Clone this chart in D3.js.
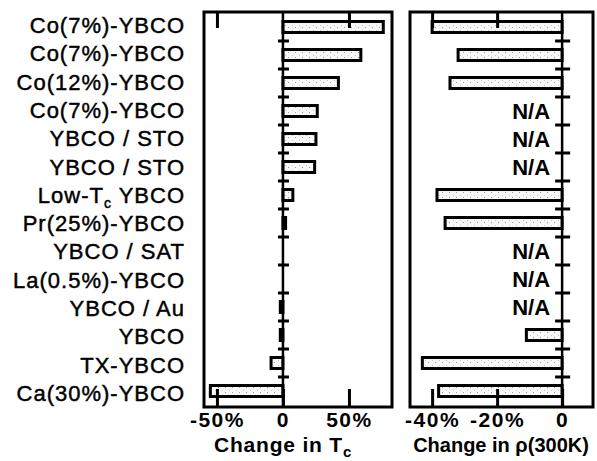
<!DOCTYPE html>
<html>
<head>
<meta charset="utf-8">
<script src="https://cdn.jsdelivr.net/npm/d3@7"></script>
<style>
  html, body { margin: 0; padding: 0; background: #fff; }
  svg { display: block; }
  text { font-family: "Liberation Sans", Arial, Helvetica, sans-serif; fill: #000; }
</style>
</head>
<body>
<svg id="chart" width="597" height="461"></svg>
<script>
// Sample names, one per row (top to bottom)
const samples = [
  "Co(7%)-YBCO", "Co(7%)-YBCO", "Co(12%)-YBCO", "Co(7%)-YBCO",
  "YBCO / STO", "YBCO / STO", "Low-Tc YBCO", "Pr(25%)-YBCO",
  "YBCO / SAT", "La(0.5%)-YBCO", "YBCO / Au", "YBCO",
  "TX-YBCO", "Ca(30%)-YBCO"
];
// Relative change of the critical temperature, percent
const changeTc = [76, 59, 42, 26, 25, 24, 7.5, 2, 0, 0, -2, -2, -9, -55];
// Relative change of the 300 K resistivity, percent (null = not available)
const changeRho = [-40, -32, -34.5, null, null, null, -38.5, -36, null, null, null, -11, -43, -38];

const tcTicks = [-50, 0, 50];
const tcTickLabels = ["-50%", "0", "50%"];
const rhoTicks = [-40, -20, 0];
const rhoTickLabels = ["-40%", "-20%", "0"];

const svg = d3.select("#chart");

// dotted light fill used inside the bars
const defs = svg.append("defs");
const pat = defs.append("pattern").attr("id", "speckle")
  .attr("patternUnits", "userSpaceOnUse").attr("width", 7).attr("height", 5);
pat.append("rect").attr("width", 7).attr("height", 5).attr("fill", "#f7f7f7");
pat.append("rect").attr("x", 1).attr("y", 2).attr("width", 1).attr("height", 1).attr("fill", "#9a9a9a");
pat.append("rect").attr("x", 5).attr("y", 0).attr("width", 1).attr("height", 1).attr("fill", "#c4c4c4");

const plotTop = 12, plotBottom = 407;
const y = d3.scaleBand().domain(d3.range(samples.length)).range([13, 405]).paddingInner(0).paddingOuter(0);
// label baselines run a touch wider than the bar rows
const yLabel = d3.scalePoint().domain(d3.range(samples.length)).range([33, 401]);
const barH = 11;

const panels = [
  { values: changeTc, x: d3.scaleLinear().domain([-59.8, 82.6]).range([204, 392]),
    ticks: tcTicks, tickLabels: tcTickLabels, rowTick: [-5, 6], title: "tc" },
  { values: changeRho, x: d3.scaleLinear().domain([-46.8, 9.5]).range([410, 593]),
    ticks: rhoTicks, tickLabels: rhoTickLabels, rowTick: [-7, 8], title: "rho" }
];

// Row labels on the left
const labels = svg.append("g");
samples.forEach((s, i) => {
  const t = labels.append("text")
    .attr("x", 185).attr("y", yLabel(i))
    .attr("text-anchor", "end")
    .attr("font-size", 22).attr("letter-spacing", 1.0)
    .attr("stroke", "#000").attr("stroke-width", 0.45);
  if (s === "Low-Tc YBCO") {
    t.append("tspan").text("Low-T");
    t.append("tspan").attr("font-size", 14).attr("dy", 5).text("c");
    t.append("tspan").attr("dy", -5).text(" YBCO");
  } else {
    t.text(s);
  }
});

panels.forEach(p => {
  const g = svg.append("g");
  const x = p.x;
  const [x0, x1] = x.range();
  const zero = x(0);

  // frame
  g.append("rect").attr("x", x0).attr("y", plotTop).attr("width", x1 - x0).attr("height", plotBottom - plotTop)
    .attr("fill", "none").attr("stroke", "#000").attr("stroke-width", 3);

  // bars
  const rows = p.values.map((v, i) => ({ v, i })).filter(d => d.v !== null && d.v !== 0);
  g.selectAll("rect.bar").data(rows).join("rect").attr("class", "bar")
    .attr("x", d => Math.min(x(d.v), zero))
    .attr("y", d => y(d.i) + (y.bandwidth() - barH) / 2)
    .attr("width", d => Math.abs(x(d.v) - zero))
    .attr("height", barH)
    .attr("fill", "url(#speckle)")
    .attr("stroke", "#000").attr("stroke-width", 3);

  // N/A markers
  p.values.forEach((v, i) => {
    if (v === null) {
      g.append("text").attr("x", zero - 12).attr("y", y(i) + y.bandwidth() / 2 + 8)
        .attr("text-anchor", "end").attr("font-size", 22).attr("font-weight", "bold")
        .text("N/A");
    }
  });

  // zero line
  g.append("line").attr("x1", zero).attr("x2", zero).attr("y1", plotTop).attr("y2", plotBottom)
    .attr("stroke", "#000").attr("stroke-width", 2.5);

  // row separator ticks on the zero line
  d3.range(1, samples.length).forEach(i => {
    g.append("line").attr("x1", zero + p.rowTick[0]).attr("x2", zero + p.rowTick[1])
      .attr("y1", y(i)).attr("y2", y(i)).attr("stroke", "#000").attr("stroke-width", 3);
  });

  // bottom axis: inward ticks and labels
  const axis = d3.axisBottom(x).tickValues(p.ticks)
    .tickFormat((d, k) => p.tickLabels[k]).tickSizeInner(-18).tickSizeOuter(0);
  const ax = g.append("g").attr("transform", `translate(0,${plotBottom})`).call(axis);
  ax.select(".domain").remove();
  ax.selectAll(".tick line").attr("stroke", "#000").attr("stroke-width", 3);
  ax.selectAll(".tick text").attr("y", 20).attr("dy", 0)
    .attr("font-size", 21).attr("font-weight", "bold").attr("fill", "#000")
    .attr("letter-spacing", 1.5)
    .attr("font-family", "Liberation Sans, Arial, sans-serif");

  // mirrored inward ticks along the top edge
  const axTop = d3.axisTop(x).tickValues(p.ticks.filter(t => t !== 0))
    .tickFormat("").tickSizeInner(-16).tickSizeOuter(0);
  const at = g.append("g").attr("transform", `translate(0,${plotTop})`).call(axTop);
  at.select(".domain").remove();
  at.selectAll(".tick line").attr("stroke", "#000").attr("stroke-width", 3);

  // axis title
  if (p.title === "tc") {
    const tt = g.append("text").attr("x", 283).attr("y", 452).attr("text-anchor", "middle")
      .attr("font-size", 21).attr("font-weight", "bold").attr("letter-spacing", 0.8);
    tt.append("tspan").text("Change in T");
    tt.append("tspan").attr("font-size", 15).attr("dy", 5).text("c");
  } else {
    g.append("text").attr("x", 501).attr("y", 452).attr("text-anchor", "middle")
      .attr("font-size", 20).attr("font-weight", "bold")
      .text("Change in \u03c1(300K)");
  }
});
</script>
</body>
</html>
